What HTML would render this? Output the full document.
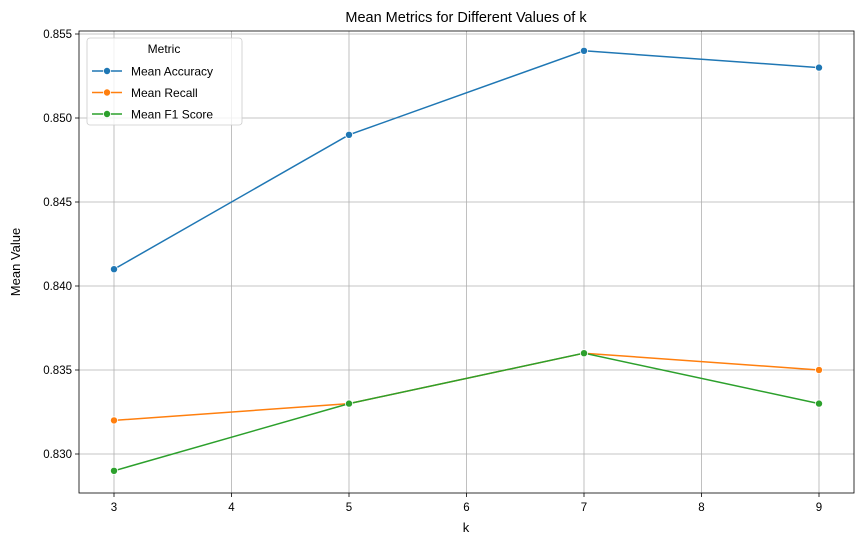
<!DOCTYPE html>
<html><head><meta charset="utf-8"><style>
body{margin:0;background:#fff;}
svg{display:block;font-family:"Liberation Sans","DejaVu Sans",sans-serif;}
</style></head><body>
<svg id="chart" width="864" height="545" viewBox="0 0 864 545">
<rect x="0" y="0" width="864" height="545" fill="#fff"/>
<g id="grid"></g>
<g id="axes"></g>
<g id="series"></g>
<text x="466" y="22" text-anchor="middle" font-size="14.5" fill="#000">Mean Metrics for Different Values of k</text>
<text x="466" y="532" text-anchor="middle" font-size="13" fill="#000">k</text>
<text transform="translate(20,262) rotate(-90)" text-anchor="middle" font-size="13" fill="#000">Mean Value</text>
<g id="legend"></g>
</svg>
<script>
const categories=[3,5,7,9];
const accuracy=[0.841,0.849,0.854,0.853];
const recall=[0.832,0.833,0.836,0.835];
const f1=[0.829,0.833,0.836,0.833];
const xTicks=[3,4,5,6,7,8,9];
const yTicks=[0.830,0.835,0.840,0.845,0.850,0.855];
const seriesNames=["Mean Accuracy","Mean Recall","Mean F1 Score"];
const colors=["#1f77b4","#ff7f0e","#2ca02c"];

const L=79,R=854,T=31,B=493;
function xs(v){return 114+(v-3)*(705/6);}
function ys(v){return 454-(v-0.830)*(420/0.025);}
const NS="http://www.w3.org/2000/svg";
function mk(tag,attrs,parent){const e=document.createElementNS(NS,tag);for(const k in attrs)e.setAttribute(k,attrs[k]);parent.appendChild(e);return e;}
const grid=document.getElementById('grid'),axes=document.getElementById('axes'),ser=document.getElementById('series'),leg=document.getElementById('legend');
xTicks.forEach(t=>{
 const x=xs(t);
 const g=mk('line',{x1:x,x2:x,y1:T,y2:B,stroke:'#b0b0b0','stroke-width':0.8},grid);
 
 
 mk('line',{x1:x,x2:x,y1:B,y2:B+4,stroke:'#000','stroke-width':0.8},axes);
 const tx=mk('text',{x:x,y:B+18,'text-anchor':'middle','font-size':11.5},axes);
 tx.textContent=t;
 
 
});
yTicks.forEach(t=>{
 const y=ys(t);
 const g=mk('line',{x1:L,x2:R,y1:y,y2:y,stroke:'#b0b0b0','stroke-width':0.8},grid);
 
 
 mk('line',{x1:L-4,x2:L,y1:y,y2:y,stroke:'#000','stroke-width':0.8},axes);
 const tx=mk('text',{x:L-7,y:y+4,'text-anchor':'end','font-size':11.5},axes);
 tx.textContent=t.toFixed(3);
 
 
});
const frame=mk('rect',{x:L,y:T,width:R-L,height:B-T,fill:'none',stroke:'#000','stroke-width':0.8},axes);


[accuracy,recall,f1].forEach((vals,i)=>{
 const pts=categories.map((c,j)=>xs(c)+','+ys(vals[j])).join(' ');
 const pl=mk('polyline',{points:pts,fill:'none',stroke:colors[i],'stroke-width':1.5},ser);
 
 
 categories.forEach((c,j)=>{
  const m=mk('circle',{cx:xs(c),cy:ys(vals[j]),r:3.6,fill:colors[i],stroke:'#fff','stroke-width':0.8},ser);
  
  
 });
});
mk('rect',{x:87,y:38,width:155,height:87,rx:3,fill:'#fff','fill-opacity':0.8,stroke:'#ccc','stroke-width':0.8},leg);
const lt=mk('text',{x:164,y:53,'text-anchor':'middle','font-size':12},leg);
lt.textContent='Metric';


seriesNames.forEach((n,i)=>{
 const y=71+i*21.5;
 mk('line',{x1:92,x2:122,y1:y,y2:y,stroke:colors[i],'stroke-width':1.5},leg);
 mk('circle',{cx:107,cy:y,r:3.6,fill:colors[i],stroke:'#fff','stroke-width':0.8},leg);
 const t=mk('text',{x:131,y:y+4.5,'font-size':12},leg);
 t.textContent=n;
 
 
});
</script>
</body></html>
